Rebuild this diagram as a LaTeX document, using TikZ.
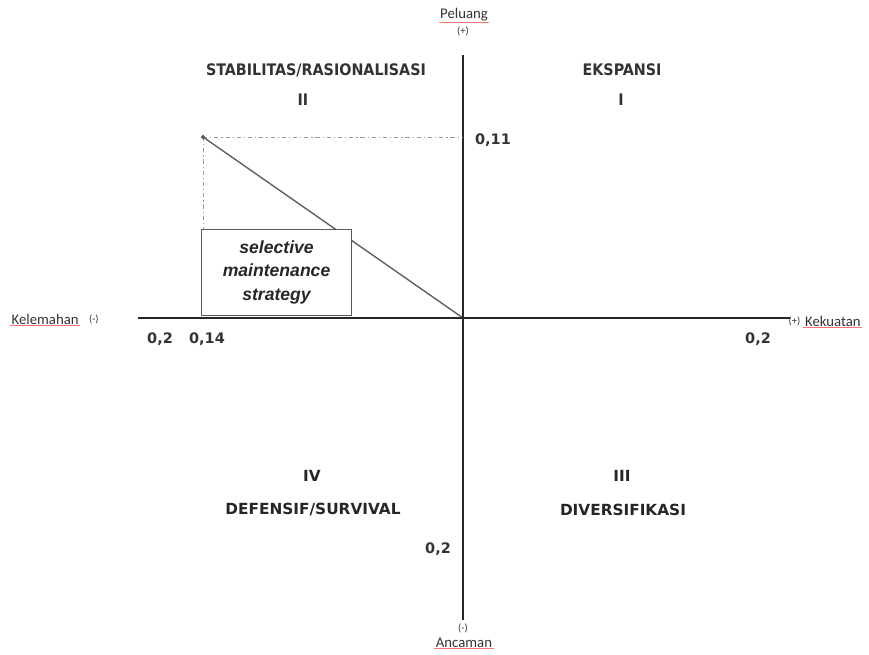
\documentclass[tikz,border=0pt]{standalone}
\usepackage{fontspec}
\setmainfont{DejaVu Sans}
\newfontfamily\calfont{Carlito}
\newfontfamily\boxfont{Liberation Sans}
\newfontfamily\condfont{DejaVu Sans Condensed}
\usetikzlibrary{positioning}

\begin{document}
\begin{tikzpicture}[x=0.025cm,y=-0.025cm,
    axis/.style={line width=1.5pt, black!85},
    guide/.style={gray!80, line width=0.7pt, dash pattern=on 3pt off 2pt on 1pt off 2pt},
    quadtop/.style={font=\condfont\bfseries\fontsize{11.3}{13}\selectfont, text=black!80},
    quad/.style={font=\bfseries\fontsize{10.9}{12}\selectfont, text=black!85},
    tick/.style={font=\bfseries\fontsize{10.3}{12}\selectfont, text=black!80},
    side/.style={font=\calfont\fontsize{10.5}{12}\selectfont, text=black!80, inner sep=1pt},
    sign/.style={font=\calfont\fontsize{7.5}{9}\selectfont, text=black!80, inner sep=1pt},
    spell/.style={red!55, line width=0.6pt}]
\useasboundingbox (0,0) rectangle (869,655);

% the axes
  \coordinate (top) at (463,55);
  \coordinate (bottom) at (463,620);
  \coordinate (left) at (138,318);
  \coordinate (right) at (790,318);
  \coordinate (origin) at (463,318);
  \draw[axis] (left) -- (right);
  \draw[axis] (top) -- (bottom);

  % axis ends
  \node[side] (peluang) at (464,15) {Peluang};
  \node[sign] (plus) at (463,31) {(+)};
  \node[side, anchor=west] (lemah) at (10,319) {Kelemahan};
  \node[sign, right=5pt of lemah] (lemahsign) {(-)};
  \node[sign, anchor=west] (kuatsign) at (787,321) {(+)};
  \node[side, right=1pt of kuatsign] (kuat) {Kekuatan};
  \node[sign] (minus) at (463,628) {(-)};
  \node[side] (ancaman) at (464,643) {Ancaman};
  \foreach \w in {peluang,lemah,kuat,ancaman}
    \draw[spell] ([yshift=0.5pt]\w.south west) -- ([yshift=0.5pt]\w.south east);

  % quadrant names
  \node[quadtop] (q2) at (316,70) {STABILITAS/RASIONALISASI};
  \node[quadtop] (n2) at (303,100) {II};
  \node[quadtop] (q1) at (622,70) {EKSPANSI};
  \node[quadtop] (n1) at (621,100) {I};
  \node[quad] (n4) at (312,476) {IV};
  \node[quad] (q4) at (313,510) {DEFENSIF/SURVIVAL};
  \node[quad] (n3) at (622,476) {III};
  \node[quad] (q3) at (623,510) {DIVERSIFIKASI};

  % values on the axes
  \node[tick] (x1) at (160,339) {0,2};
  \node[tick] (x2) at (207,339) {0,14};
  \node[tick] (x3) at (758,339) {0,2};
  \node[tick] (y1) at (493,140) {0,11};
  \node[tick] (y2) at (438,549) {0,2};

  % the position
  \coordinate (pos) at (203,137);
  \draw[guide] (pos) -- (origin |- pos);
  \draw[guide] (pos) -- (203,232);
  \draw[gray!75!black, line width=1pt] (pos) -- (origin);
  \filldraw[gray!70!black] (pos) circle (1.3pt);

  \node[draw=gray!70!black, fill=white, line width=0.8pt, minimum width=150*0.025cm,
        minimum height=86*0.025cm, inner sep=0pt, anchor=south west,
        align=center, font=\boxfont\bfseries\itshape\fontsize{12.5}{16.5}\selectfont, text=black!85]
        (strat) at (201,316) {selective\\maintenance\\strategy};
  \draw[axis] (left) -- (origin);
\end{tikzpicture}
\end{document}
